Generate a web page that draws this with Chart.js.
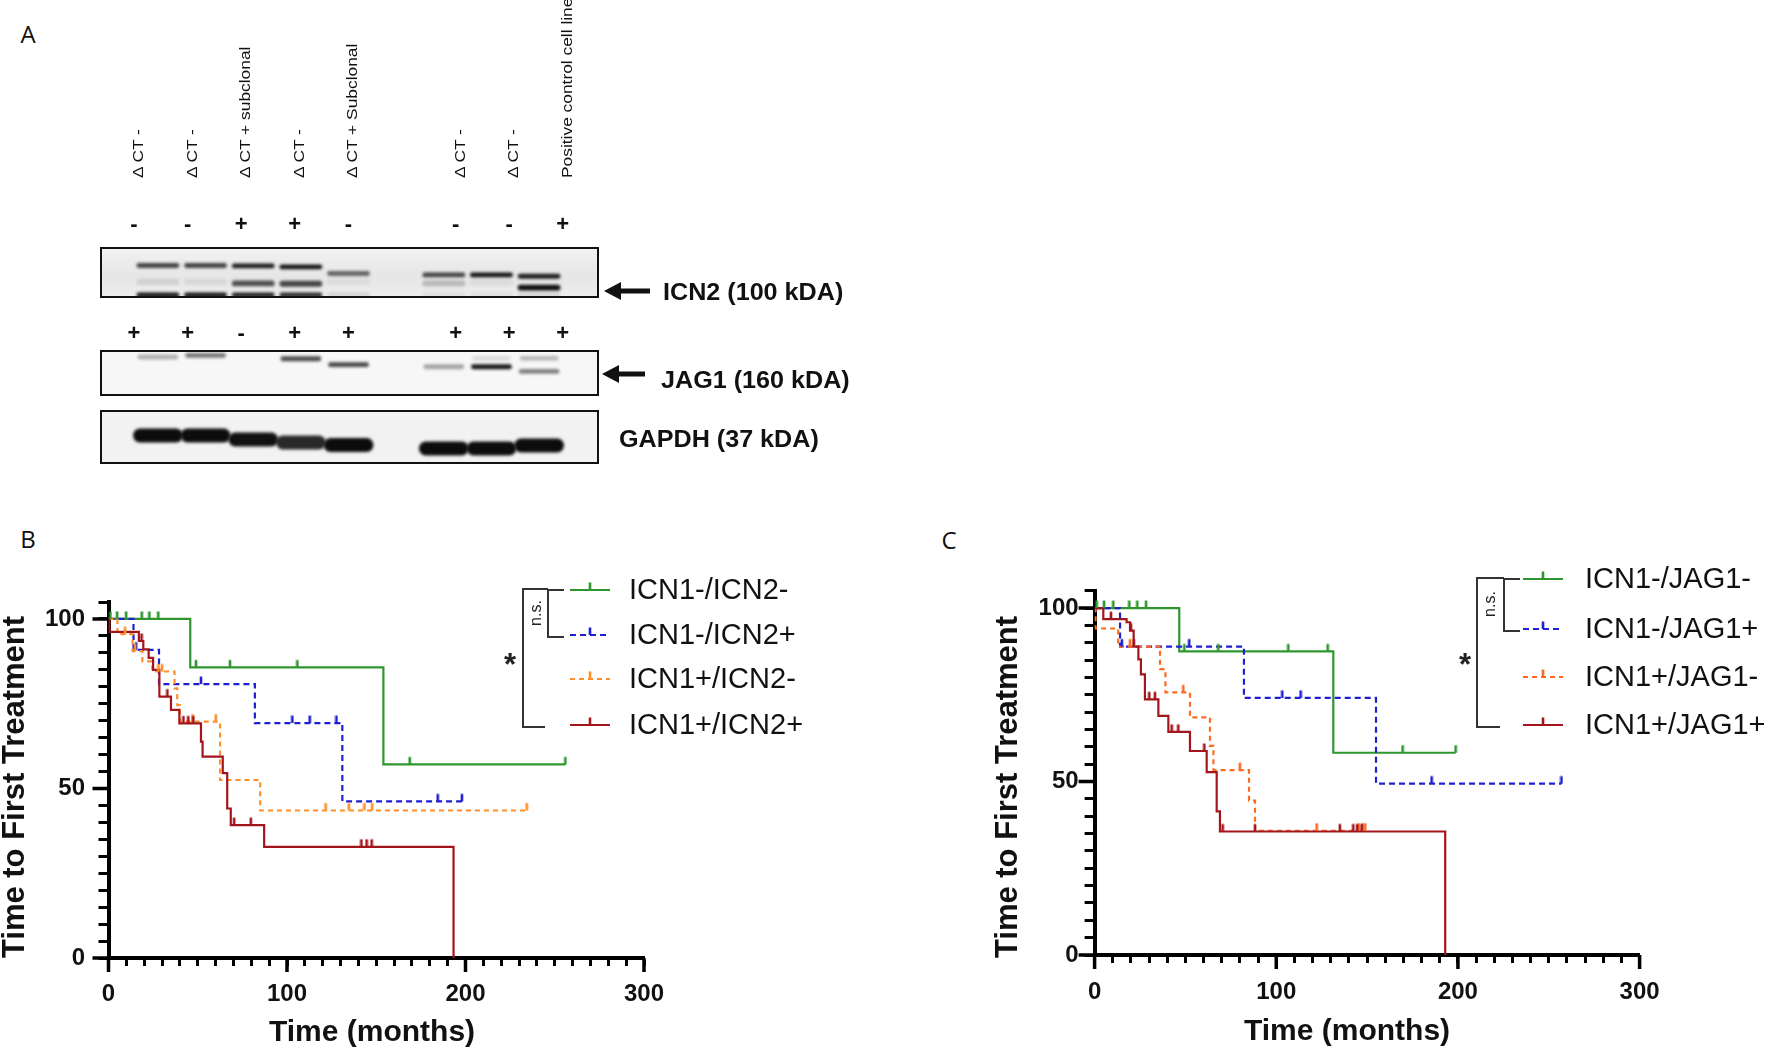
<!DOCTYPE html>
<html>
<head>
<meta charset="utf-8">
<script src="https://cdn.jsdelivr.net/npm/chart.js@4.4.0/dist/chart.umd.min.js"></script>
<style>
  body { margin: 0; background: #fff; }
  #fig { position: relative; width: 1772px; height: 1055px; overflow: hidden; background: #fff;
         font-family: "Liberation Sans", Arial, sans-serif; color: #111; }
  .abs { position: absolute; }
  .panel { font-family: "Open Sans", sans-serif; font-size: 24px; transform: translate(-50%, -50%); }
  .lane { font-size: 14px; line-height: 16px; white-space: nowrap; transform-origin: 0 50%;
          transform: rotate(-90deg) scaleX(1.24); }
  .call { font-size: 22px; font-weight: bold; transform: translate(-50%, -50%); }
  .prot { font-size: 23.5px; font-weight: bold; white-space: nowrap; transform-origin: 0 50%;
          transform: translateY(-50%) scaleX(1.07); }
  .strip { box-sizing: border-box; border: 2px solid #111; }
</style>
</head>
<body>
<div id="fig">
  <div class="abs panel" style="left:28px;top:33px">A</div>
  <div class="abs panel" style="left:28px;top:538px">B</div>
  <div class="abs panel" style="left:949px;top:539px">C</div>

  <div class="abs strip" style="left:100px;top:247px;width:499px;height:51px;background:linear-gradient(#f1f1f1,#e6e6e6 60%,#ededed)">
    <canvas id="blotIcn2" width="495" height="47"></canvas>
  </div>
  <div class="abs strip" style="left:100px;top:350px;width:499px;height:46px;background:#f7f7f7">
    <canvas id="blotJag1" width="495" height="42"></canvas>
  </div>
  <div class="abs strip" style="left:100px;top:410px;width:499px;height:54px;background:#f2f2f2">
    <canvas id="blotGapdh" width="495" height="50"></canvas>
  </div>

  <svg class="abs" style="left:0;top:0" width="700" height="480">
    <polygon fill="#111" points="604,291 621,282 621,288.5 650,288.5 650,293.5 621,293.5 621,300"/>
    <polygon fill="#111" points="602,374 619,365 619,371.5 645,371.5 645,376.5 619,376.5 619,383"/>
  </svg>
  <div class="abs prot" style="left:663px;top:292px">ICN2 (100 kDA)</div>
  <div class="abs prot" style="left:661px;top:380px">JAG1 (160 kDA)</div>
  <div class="abs prot" style="left:619px;top:439px">GAPDH (37 kDA)</div>

  <canvas id="kmB" class="abs" style="left:0;top:560px" width="880" height="495"></canvas>
  <canvas id="kmC" class="abs" style="left:886px;top:560px" width="886" height="495"></canvas>
</div>

<script>
// ---- panel A: lanes (slot 5 is the empty gap between the two sets) ----
const laneNames = ['Δ CT -', 'Δ CT -', 'Δ CT + subclonal', 'Δ CT -', 'Δ CT + Subclonal', '',
                   'Δ CT -', 'Δ CT -', 'Positive control cell line'];
const icn2Calls = ['-', '-', '+', '+', '-', '', '-', '-', '+'];
const jag1Calls = ['+', '+', '-', '+', '+', '', '+', '+', '+'];

// band strength (0-1) and migration (% of strip height) per lane
const icn2MainLevel    = [0.75, 0.75, 0.92, 0.97, 0.6, 0, 0.75, 0.97, 0.92];
const icn2MainMig      = [35, 35, 36, 38, 52, 0, 55, 55, 58];
const icn2CleavedLevel = [0.1, 0.08, 0.7, 0.75, 0.06, 0, 0.22, 0.06, 1];
const icn2CleavedMig   = [70, 70, 73, 74, 70, 0, 73, 72, 82];
const icn2FrontLevel   = [0.95, 0.95, 0.9, 0.85, 0.1, 0, 0.06, 0.06, 0.1];
const jag1Level        = [0.3, 0.55, 0, 0.72, 0.75, 0, 0.35, 0.95, 0.5];
const jag1Mig          = [12, 8, 0, 16, 30, 0, 35, 35, 46];
const jag1UpperLevel   = [0, 0, 0, 0, 0, 0, 0, 0.12, 0.28];
const gapdhLevel       = [1, 1, 0.98, 0.88, 1, 0, 1, 1, 1];
const gapdhMig         = [47, 47, 55, 61, 66, 0, 73, 73, 67];

// ---- panel B: ICN1 / ICN2 groups, event times (months), survival (%) after each event, censored times ----
const bNames = ['ICN1-/ICN2-', 'ICN1-/ICN2+', 'ICN1+/ICN2-', 'ICN1+/ICN2+'];
const bGreenT = [45.8, 154];
const bGreenS = [85.7, 57.1];
const bGreenCens = [1.1, 4.8, 9.9, 18.6, 22.9, 27.9, 49, 68, 105.8, 168.7, 256];
const bBlueT = [14, 28.3, 82, 131];
const bBlueS = [90.9, 80.8, 69.3, 46.2];
const bBlueCens = [15.5, 51.8, 103, 112.7, 127.7, 184.4, 198];
const bOrangeT = [5, 13.5, 19, 24.5, 37, 38.5, 40, 62.5, 85];
const bOrangeS = [95.5, 90.5, 87.5, 84.5, 79.5, 74.6, 69.7, 52.5, 43.5];
const bOrangeCens = [9.3, 14.9, 28, 30, 47.1, 60.1, 121.6, 134.6, 143.4, 147.7, 234.3];
const bRedT = [0.5, 17, 19.5, 22.5, 25, 28.5, 35, 39.7, 51.8, 52.7, 64, 66.5, 68.5, 87.2, 193.3];
const bRedS = [96.2, 93.5, 91, 88.5, 85, 77.1, 73.2, 69.2, 63.8, 59.4, 54.5, 44.1, 39.2, 32.8, 0];
const bRedCens = [18.5, 33, 42, 44.7, 47.5, 70.4, 79.7, 141.7, 144.6, 147.4];

// ---- panel C: ICN1 / JAG1 groups ----
const cNames = ['ICN1-/JAG1-', 'ICN1-/JAG1+', 'ICN1+/JAG1-', 'ICN1+/JAG1+'];
const cGreenT = [46.6, 131.4];
const cGreenS = [87.5, 58.3];
const cGreenCens = [1.1, 5.2, 10.3, 19.1, 23.5, 28.3, 49.4, 68.1, 106.6, 128.3, 169.5, 198.7];
const cBlueT = [14, 82.2, 154.9];
const cBlueS = [88.9, 74.1, 49.4];
const cBlueCens = [15, 52.1, 103.3, 113.4, 185.5, 257];
const cOrangeT = [0.5, 13, 36, 39, 52.5, 63.5, 65.4, 85, 88.3];
const cOrangeS = [94.1, 88.9, 82.4, 75.7, 68.5, 60.3, 53.3, 44.5, 35.8];
const cOrangeCens = [19.5, 48.8, 80, 122.2, 145.5, 147.5, 149];
const cRedT = [4.8, 17.6, 19.5, 21.5, 24.1, 25.5, 27.7, 35.1, 40.6, 52.5, 61.7, 67.2, 69, 193];
const cRedS = [96.8, 95.9, 93.5, 88.9, 85.2, 80.9, 73.7, 68.9, 64.3, 58.8, 52.7, 41.4, 35.6, 0];
const cRedCens = [9, 20, 21.5, 30.1, 33.2, 42.4, 46.1, 60.4, 70.5, 88.3, 135, 142.4, 144.5, 147];

const xTickLabels = [0, 100, 200, 300];
const yTickLabels = [0, 50, 100];

const FONT = '"Liberation Sans", Arial, sans-serif';
const fig = document.getElementById('fig');

// lane labels and +/- calls
laneNames.forEach((name, i) => {
  const cx = 134 + 53.6 * i;
  if (name) {
    const d = document.createElement('div');
    d.className = 'abs lane';
    d.style.left = (cx + 4) + 'px';
    d.style.top = '170px';
    d.textContent = name;
    fig.appendChild(d);
  }
  [[icn2Calls, 224], [jag1Calls, 333]].forEach(([calls, y]) => {
    if (!calls[i]) return;
    const s = document.createElement('div');
    s.className = 'abs call';
    s.style.left = cx + 'px';
    s.style.top = y + 'px';
    s.textContent = calls[i];
    fig.appendChild(s);
  });
});

const blur = {
  id: 'blur',
  beforeDatasetsDraw(c) { c.ctx.save(); c.ctx.filter = 'blur(1.8px)'; },
  afterDatasetsDraw(c) { c.ctx.restore(); }
};

function blotChart(id, bands) {
  new Chart(document.getElementById(id), {
    type: 'bar',
    data: {
      datasets: bands.map(b => {
        const lanes = b.level.map((a, i) => i).filter(i => b.level[i] > 0);
        return {
          data: lanes.map(i => ({ x: i, y: [b.mig[i] - b.h / 2, b.mig[i] + b.h / 2] })),
          backgroundColor: lanes.map(i => 'rgba(12,12,12,' + b.level[i] + ')'),
          barThickness: b.w,
          borderRadius: 14,
          borderSkipped: false,
          grouped: false
        };
      })
    },
    options: {
      responsive: false, animation: false, events: [],
      layout: { padding: 0 },
      plugins: { legend: { display: false }, tooltip: { enabled: false } },
      scales: {
        x: { type: 'linear', min: -0.597, max: 8.638, display: false },
        y: { min: 0, max: 100, reverse: true, display: false }
      }
    },
    plugins: [blur]
  });
}

blotChart('blotIcn2', [
  { level: icn2MainLevel, mig: icn2MainMig, h: 9, w: 42 },
  { level: icn2CleavedLevel, mig: icn2CleavedMig, h: 11, w: 42 },
  { level: icn2FrontLevel, mig: icn2FrontLevel.map(() => 98), h: 9, w: 42 }
]);
blotChart('blotJag1', [
  { level: jag1UpperLevel, mig: jag1UpperLevel.map(() => 15), h: 9, w: 38 },
  { level: jag1Level, mig: jag1Mig, h: 10, w: 40 }
]);
blotChart('blotGapdh', [
  { level: gapdhLevel, mig: gapdhMig, h: 27, w: 49 }
]);

// ---- Kaplan-Meier helpers ----
function steps(times, surv, cens) {
  const pts = [{ x: 0, y: 100 }];
  times.forEach((t, i) => pts.push({ x: t, y: surv[i] }));
  const end = Math.max(...cens);
  if (end > times[times.length - 1]) pts.push({ x: end, y: surv[surv.length - 1] });
  return pts;
}
function survAt(times, surv, t) {
  let s = 100;
  times.forEach((tt, i) => { if (tt <= t) s = surv[i]; });
  return s;
}
function tickImg(color) {
  const c = document.createElement('canvas');
  c.width = 4; c.height = 18;
  const g = c.getContext('2d');
  g.fillStyle = color;
  g.fillRect(0.7, 1.5, 2.6, 7.5);
  return c;
}

function kmChart(id, groups, L) {
  const datasets = [];
  groups.forEach((g, k) => {
    g.tick = tickImg(g.color);
    datasets.push({
      data: steps(g.times, g.surv, g.cens), borderColor: g.color, borderWidth: 2.2,
      borderDash: g.dash, stepped: 'before', pointRadius: 0, fill: false, order: 10 - k
    });
    datasets.push({
      data: g.cens.map(t => ({ x: t, y: survAt(g.times, g.surv, t) })),
      showLine: false, pointStyle: g.tick, pointRadius: 3, order: 5 - k
    });
  });

  const deco = {
    id: 'deco',
    afterDraw(chart) {
      const ctx = chart.ctx;
      const { x, y } = chart.scales;
      ctx.save();
      // longer major ticks
      ctx.strokeStyle = '#000'; ctx.lineWidth = 3.5;
      ctx.beginPath();
      xTickLabels.forEach(v => { const p = x.getPixelForValue(v); ctx.moveTo(p, x.top); ctx.lineTo(p, x.top + 14); });
      yTickLabels.forEach(v => { const p = y.getPixelForValue(v); ctx.moveTo(y.right - 16, p); ctx.lineTo(y.right, p); });
      ctx.stroke();
      // axis titles
      ctx.fillStyle = '#111';
      ctx.textAlign = 'center'; ctx.textBaseline = 'middle';
      ctx.font = 'bold 31px ' + FONT;
      ctx.save(); ctx.translate(L.ytx, L.yty); ctx.rotate(-Math.PI / 2);
      ctx.fillText('Time to First Treatment', 0, 0); ctx.restore();
      ctx.font = 'bold 30px ' + FONT;
      ctx.fillText('Time (months)', L.xtx, L.xty);
      // legend
      ctx.textAlign = 'left';
      ctx.font = '29px ' + FONT;
      groups.forEach((g, i) => {
        const yy = L.rows[i];
        ctx.strokeStyle = g.color; ctx.lineWidth = 2.2; ctx.setLineDash(g.dash);
        ctx.beginPath(); ctx.moveTo(L.lx0, yy); ctx.lineTo(L.lx1, yy); ctx.stroke();
        ctx.setLineDash([]);
        ctx.drawImage(g.tick, (L.lx0 + L.lx1) / 2 - 2, yy - 9);
        ctx.fillStyle = '#111';
        ctx.fillText(g.name, L.tx, yy + 1);
      });
      // significance brackets
      ctx.strokeStyle = '#333'; ctx.lineWidth = 2;
      ctx.beginPath();
      ctx.moveTo(L.ix1, L.rows[0]); ctx.lineTo(L.ix0, L.rows[0]); ctx.lineTo(L.ix0, L.rows[1] + 2); ctx.lineTo(L.ix1, L.rows[1] + 2);
      ctx.moveTo(L.ix0, L.rows[0] - 1); ctx.lineTo(L.ox, L.rows[0] - 1); ctx.lineTo(L.ox, L.rows[3] + 2); ctx.lineTo(L.obx, L.rows[3] + 2);
      ctx.stroke();
      ctx.fillStyle = '#222';
      ctx.font = '16px ' + FONT; ctx.textAlign = 'center';
      ctx.save(); ctx.translate(L.nsx, L.nsy); ctx.rotate(-Math.PI / 2); ctx.fillText('n.s.', 0, 0); ctx.restore();
      ctx.font = 'bold 31px ' + FONT; ctx.textBaseline = 'alphabetic';
      ctx.fillText('*', L.sx, L.sy + 18);
      ctx.restore();
    }
  };

  const tickFont = { family: FONT, size: 24, weight: 'bold' };
  new Chart(document.getElementById(id), {
    type: 'line',
    data: { datasets },
    options: {
      responsive: false, animation: false, events: [],
      layout: { padding: { top: L.top, right: L.right, left: 0, bottom: 0 } },
      plugins: { legend: { display: false }, tooltip: { enabled: false } },
      scales: {
        x: {
          type: 'linear', min: 0, max: 300,
          afterFit(s) { s.height = L.xh; s.paddingLeft = 0; s.paddingRight = 0; },
          border: { color: '#000', width: 4 },
          grid: { drawOnChartArea: false, tickLength: 8, tickWidth: 3, tickColor: '#000' },
          ticks: { stepSize: 10, autoSkip: false, maxRotation: 0, color: '#111', padding: L.xpad, font: tickFont,
                   callback: v => xTickLabels.includes(v) ? String(v) : '' }
        },
        y: {
          min: 0, max: 105,
          afterFit(s) { s.width = L.yw; s.paddingTop = 0; s.paddingBottom = 0; },
          border: { color: '#000', width: 4 },
          grid: { drawOnChartArea: false, tickLength: 10, tickWidth: 3, tickColor: '#000' },
          ticks: { stepSize: 5, autoSkip: false, color: '#111', padding: L.ypad, font: tickFont,
                   callback: v => yTickLabels.includes(v) ? String(v) : '' }
        }
      }
    },
    plugins: [deco]
  });
}

const dashBlue = [6, 4], dashOrange = [5, 4];

kmChart('kmB', [
  { name: bNames[0], times: bGreenT, surv: bGreenS, cens: bGreenCens, color: '#2f962f', dash: [] },
  { name: bNames[1], times: bBlueT, surv: bBlueS, cens: bBlueCens, color: '#1e1ed2', dash: dashBlue },
  { name: bNames[2], times: bOrangeT, surv: bOrangeS, cens: bOrangeCens, color: '#ff8f2a', dash: dashOrange },
  { name: bNames[3], times: bRedT, surv: bRedS, cens: bRedCens, color: '#a3151c', dash: [] }
], {
  top: 42, right: 236, yw: 108.5, xh: 97, xpad: 13.6, ypad: 13.5,
  ytx: 15, yty: 227, xtx: 372, xty: 473,
  rows: [30, 75, 119, 165], lx0: 570, lx1: 610, tx: 629,
  ix0: 548, ix1: 564, ox: 523, obx: 545, nsx: 537, nsy: 53, sx: 510, sy: 97
});

kmChart('kmC', [
  { name: cNames[0], times: cGreenT, surv: cGreenS, cens: cGreenCens, color: '#2f962f', dash: [] },
  { name: cNames[1], times: cBlueT, surv: cBlueS, cens: cBlueCens, color: '#1e1ed2', dash: dashBlue },
  { name: cNames[2], times: cOrangeT, surv: cOrangeS, cens: cOrangeCens, color: '#ff6a22', dash: dashOrange },
  { name: cNames[3], times: cRedT, surv: cRedS, cens: cRedCens, color: '#a3151c', dash: [] }
], {
  top: 30.7, right: 132.4, yw: 208.6, xh: 100, xpad: 14.6, ypad: 6,
  ytx: 122, yty: 227, xtx: 461, xty: 472,
  rows: [19, 69, 117, 165], lx0: 637, lx1: 677, tx: 699,
  ix0: 618, ix1: 634, ox: 591, obx: 614, nsx: 605, nsy: 44, sx: 579, sy: 97
});
</script>
</body>
</html>
